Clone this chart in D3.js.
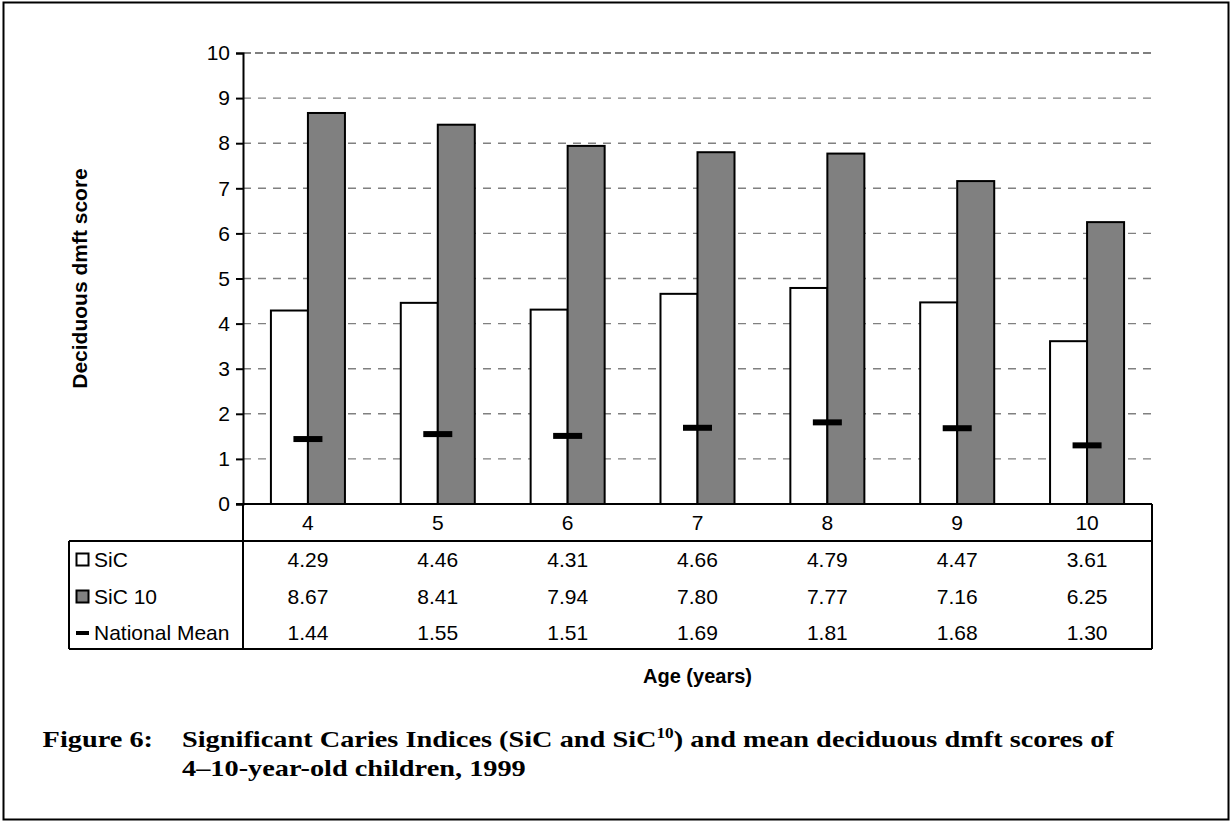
<!DOCTYPE html>
<html>
<head>
<meta charset="utf-8">
<script src="https://cdn.jsdelivr.net/npm/d3@7/dist/d3.min.js"></script>
<style>
  html, body { margin: 0; padding: 0; background: #fff; }
  svg { display: block; }
</style>
</head>
<body>
<svg id="chart" width="1230" height="821"></svg>
<script>
// Ages (years) along the category axis
const ages = ["4", "5", "6", "7", "8", "9", "10"];
// Significant Caries Index (SiC)
const sicValues = [4.29, 4.46, 4.31, 4.66, 4.79, 4.47, 3.61];
// SiC 10
const sic10Values = [8.67, 8.41, 7.94, 7.80, 7.77, 7.16, 6.25];
// National mean dmft
const meanValues = [1.44, 1.55, 1.51, 1.69, 1.81, 1.68, 1.30];
// Y axis ticks
const yTicks = [0, 1, 2, 3, 4, 5, 6, 7, 8, 9, 10];
// Rows of the data table under the plot
const seriesNames = ["SiC", "SiC 10", "National Mean"];

const svg = d3.select("#chart");
const sans = "Arial, 'Liberation Sans', Helvetica, sans-serif";
const serif = "'Palatino Linotype', 'Book Antiqua', Palatino, 'Liberation Serif', serif";
const fs = 21;

// Outer frame
svg.append("rect")
  .attr("x", 3.5).attr("y", 2.5).attr("width", 1225).attr("height", 817)
  .attr("fill", "none").attr("stroke", "#000").attr("stroke-width", 2);

const plot = { left: 243, right: 1152, top: 53, bottom: 504 };

const x = d3.scaleBand().domain(ages).range([plot.left, plot.right]).padding(0);
const y = d3.scaleLinear().domain([0, 10]).range([plot.bottom, plot.top]);

const barW = x.bandwidth() * 0.285;

// Dashed gridlines
svg.append("g")
  .selectAll("line")
  .data(yTicks.filter(d => d > 0))
  .join("line")
  .attr("x1", plot.left).attr("x2", plot.right)
  .attr("y1", d => y(d)).attr("y2", d => y(d))
  .attr("stroke", d => d === 10 ? "#555" : "#808080")
  .attr("stroke-width", 1.4)
  .attr("stroke-dasharray", d => d === 10 ? "8,4" : "8,7");

// SiC bars (white)
svg.append("g")
  .selectAll("rect")
  .data(sicValues)
  .join("rect")
  .attr("x", (d, i) => x(ages[i]) + x.bandwidth() / 2 - barW)
  .attr("y", d => y(d))
  .attr("width", barW)
  .attr("height", d => y(0) - y(d))
  .attr("fill", "#fff").attr("stroke", "#000").attr("stroke-width", 2);

// SiC 10 bars (grey)
svg.append("g")
  .selectAll("rect")
  .data(sic10Values)
  .join("rect")
  .attr("x", (d, i) => x(ages[i]) + x.bandwidth() / 2)
  .attr("y", d => y(d))
  .attr("width", barW)
  .attr("height", d => y(0) - y(d))
  .attr("fill", "#808080").attr("stroke", "#000").attr("stroke-width", 2);

// National mean markers
const markW = 29, markH = 6;
svg.append("g")
  .selectAll("rect")
  .data(meanValues)
  .join("rect")
  .attr("x", (d, i) => x(ages[i]) + x.bandwidth() / 2 - markW / 2)
  .attr("y", d => y(d) - markH / 2)
  .attr("width", markW).attr("height", markH)
  .attr("fill", "#000");

// Y axis
const yAxis = svg.append("g")
  .attr("transform", `translate(${plot.left},0)`)
  .call(d3.axisLeft(y).tickValues(yTicks).tickSize(7).tickPadding(6).tickFormat(d3.format("d")));
yAxis.select(".domain").attr("stroke", "#000").attr("stroke-width", 2);
yAxis.selectAll(".tick line").attr("stroke", "#000").attr("stroke-width", 2);
yAxis.selectAll(".tick text")
  .attr("font-family", sans).attr("font-size", fs).attr("fill", "#000");

// Category axis line
svg.append("line")
  .attr("x1", plot.left - 7).attr("x2", plot.right)
  .attr("y1", y(0)).attr("y2", y(0))
  .attr("stroke", "#000").attr("stroke-width", 2);

// Data table
const table = { left: 69, headBottom: 541, bottom: 649 };
const rowY = [560, 597, 633];
const tg = svg.append("g").attr("stroke", "#000").attr("stroke-width", 2).attr("fill", "none");
tg.append("line").attr("x1", plot.left).attr("x2", plot.left).attr("y1", y(0)).attr("y2", table.bottom);
tg.append("line").attr("x1", plot.right).attr("x2", plot.right).attr("y1", y(0)).attr("y2", table.bottom);
tg.append("line").attr("x1", table.left).attr("x2", table.left).attr("y1", table.headBottom).attr("y2", table.bottom);
tg.append("line").attr("x1", table.left).attr("x2", plot.right).attr("y1", table.headBottom).attr("y2", table.headBottom);
tg.append("line").attr("x1", table.left).attr("x2", plot.right).attr("y1", table.bottom).attr("y2", table.bottom);

// Category labels
svg.append("g")
  .selectAll("text")
  .data(ages)
  .join("text")
  .attr("x", d => x(d) + x.bandwidth() / 2)
  .attr("y", 523)
  .attr("dy", "0.35em")
  .attr("text-anchor", "middle")
  .attr("font-family", sans).attr("font-size", fs)
  .text(d => d);

// Table values
const fmt = d3.format(".2f");
[sicValues, sic10Values, meanValues].forEach((vals, r) => {
  svg.append("g")
    .selectAll("text")
    .data(vals)
    .join("text")
    .attr("x", (d, i) => x(ages[i]) + x.bandwidth() / 2)
    .attr("y", rowY[r])
    .attr("dy", "0.35em")
    .attr("text-anchor", "middle")
    .attr("font-family", sans).attr("font-size", fs)
    .text(d => fmt(d));
});

// Legend keys in the table
svg.append("rect").attr("x", 76.5).attr("y", rowY[0] - 6.5).attr("width", 12).attr("height", 12)
  .attr("fill", "#fff").attr("stroke", "#000").attr("stroke-width", 2);
svg.append("rect").attr("x", 76.5).attr("y", rowY[1] - 6.5).attr("width", 12).attr("height", 12)
  .attr("fill", "#808080").attr("stroke", "#000").attr("stroke-width", 2);
svg.append("rect").attr("x", 76).attr("y", rowY[2] - 2).attr("width", 13).attr("height", 4)
  .attr("fill", "#000");
svg.append("g")
  .selectAll("text")
  .data(seriesNames)
  .join("text")
  .attr("x", 94)
  .attr("y", (d, i) => rowY[i])
  .attr("dy", "0.35em")
  .attr("font-family", sans).attr("font-size", fs)
  .text(d => d);

// Axis titles
svg.append("text")
  .attr("transform", `translate(87,${(plot.top + plot.bottom) / 2}) rotate(-90)`)
  .attr("text-anchor", "middle")
  .attr("font-family", sans).attr("font-size", fs).attr("font-weight", "bold")
  .text("Deciduous dmft score");

svg.append("text")
  .attr("x", (plot.left + plot.right) / 2)
  .attr("y", 683)
  .attr("text-anchor", "middle")
  .attr("font-family", sans).attr("font-size", 20).attr("font-weight", "bold")
  .text("Age (years)");

// Figure caption: a bold serif, widened to a book-face proportion
const capLeft = 182, capRight = 1114, labelRight = 153;
const cap = svg.append("g")
  .attr("font-family", serif).attr("font-size", 23).attr("font-weight", "bold").attr("fill", "#000");
const capBody = cap.append("g");
const line1 = capBody.append("text").attr("x", capLeft).attr("y", 747);
line1.append("tspan").text("Significant Caries Indices (SiC and SiC");
line1.append("tspan").attr("font-size", 14).attr("dy", -9).text("10");
line1.append("tspan").attr("dy", 9).text(") and mean deciduous dmft scores of");
capBody.append("text").attr("x", capLeft).attr("y", 776).text("4\u201310-year-old children, 1999");

const natural = line1.node().getComputedTextLength();
const k = Math.max(1, Math.min(1.3, (capRight - capLeft) / natural));
capBody.attr("transform", `translate(${capLeft},0) scale(${k},1) translate(${-capLeft},0)`);

cap.append("text")
  .attr("x", labelRight).attr("y", 747).attr("text-anchor", "end")
  .attr("transform", `translate(${labelRight},0) scale(${k},1) translate(${-labelRight},0)`)
  .text("Figure 6:");
</script>
</body>
</html>
